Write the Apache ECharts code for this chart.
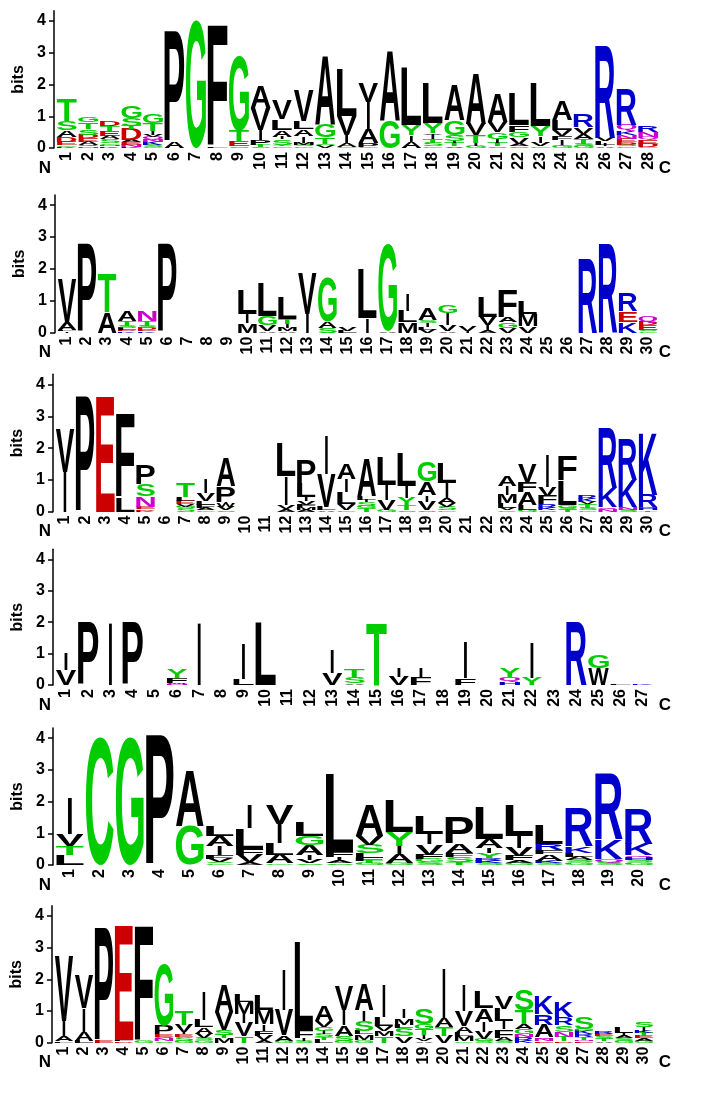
<!DOCTYPE html>
<html><head><meta charset="utf-8">
<script src="https://cdn.jsdelivr.net/npm/echarts@6/dist/echarts.min.js"></script>
<style>html,body{margin:0;padding:0;background:#fff}#c{width:705px;height:1097px}</style>
</head><body><div id="c"></div>
<script>
// ---------- DATA: each position = stack of [letter, bits] from bottom to top ----------
const logo1 = [
 [['K',.04],['G',.05],['E',.1],['D',.17],['A',.21],['S',.28],['T',.7]],
 [['N',.05],['Q',.05],['A',.1],['E',.1],['D',.12],['S',.18],['T',.22],['G',.18]],
 [['K',.05],['N',.05],['G',.05],['S',.12],['A',.1],['E',.15],['T',.17],['D',.17]],
 [['K',.04],['N',.06],['E',.08],['A',.06],['D',.35],['T',.1],['S',.25],['G',.35]],
 [['G',.04],['S',.06],['K',.1],['N',.08],['Q',.08],['V',.06],['I',.1],['T',.25],['G',.3]],
 [['A',.2],['P',3.48]],
 [['G',4.03]],
 [['L',.05],['F',3.82]],
 [['S',.05],['E',.14],['T',.35],['G',2.37]],
 [['S',.04],['T',.06],['P',.15],['I',.32],['V',.7],['A',.7]],
 [['G',.05],['T',.05],['S',.18],['I',.08],['A',.22],['L',.33],['V',.62]],
 [['G',.05],['S',.06],['M',.06],['I',.22],['A',.2],['L',.25],['V',.98]],
 [['V',.08],['S',.05],['T',.2],['G',.42],['A',2.17]],
 [['G',.04],['A',.12],['I',.25],['V',.6],['L',1.49]],
 [['G',.04],['P',.12],['A',.43],['I',.85],['V',.6]],
 [['G',.85],['A',2.22]],
 [['A',.2],['I',.22],['Y',.32],['L',1.82]],
 [['G',.05],['S',.1],['T',.12],['I',.15],['V',.05],['Y',.32],['L',1.24]],
 [['V',.05],['T',.1],['I',.06],['S',.2],['G',.47],['A',1.12]],
 [['G',.06],['I',.1],['T',.24],['V',.37],['A',1.6]],
 [['S',.05],['T',.1],['I',.12],['G',.22],['V',.32],['A',.9]],
 [['S',.05],['A',.08],['V',.2],['G',.16],['F',.22],['L',1.0]],
 [['G',.05],['V',.12],['I',.2],['Y',.32],['L',1.37]],
 [['G',.06],['T',.05],['I',.14],['F',.12],['V',.21],['L',.3],['A',.6]],
 [['G',.06],['S',.08],['T',.15],['A',.16],['V',.21],['R',.38]],
 [['A',.05],['I',.06],['L',.1],['V',.1],['R',2.92]],
 [['G',.05],['S',.06],['D',.08],['E',.1],['N',.12],['K',.13],['Q',.2],['R',1.14]],
 [['G',.04],['D',.1],['E',.12],['Q',.1],['N',.14],['R',.2]]
];
const logo2 = [
 [['I',.05],['L',.05],['A',.25],['V',1.38]],
 [['P',2.75]],
 [['A',.64],['T',1.22]],
 [['K',.04],['D',.04],['L',.06],['S',.08],['T',.15],['A',.32]],
 [['K',.04],['E',.05],['D',.06],['S',.07],['T',.15],['N',.32]],
 [['P',2.75]],
 [], [], [],
 [['M',.3],['I',.3],['L',.74]],
 [['A',.05],['V',.2],['G',.28],['L',1.02]],
 [['A',.05],['M',.1],['I',.12],['T',.17],['L',.68]],
 [['I',.6],['V',1.26]],
 [['S',.15],['A',.2],['G',1.4]],
 [['L',.06],['V',.12]],
 [['I',.45],['L',1.53]],
 [['A',.04],['G',2.71]],
 [['M',.32],['L',.37],['I',.54]],
 [['V',.1],['L',.08],['I',.13],['S',.08],['A',.35]],
 [['A',.05],['V',.2],['I',.36],['G',.26]],
 [['I',.06],['V',.14]],
 [['A',.06],['I',.18],['V',.26],['L',.63]],
 [['V',.15],['G',.17],['A',.16],['F',.86]],
 [['V',.2],['M',.38],['L',.39]],
 [], [],
 [['R',2.33]],
 [['R',2.75]],
 [['K',.34],['E',.33],['R',.56]],
 [['G',.04],['S',.04],['E',.15],['D',.1],['Q',.2]]
];
const logo3 = [
 [['I',1.26],['V',1.36]],
 [['P',3.63]],
 [['E',3.63]],
 [['L',.45],['F',2.61]],
 [['K',.03],['D',.05],['E',.08],['N',.32],['S',.38],['P',.6]],
 [],
 [['S',.1],['G',.06],['V',.08],['E',.1],['L',.12],['T',.45]],
 [['G',.05],['A',.06],['F',.1],['L',.12],['V',.25],['I',.45]],
 [['S',.05],['V',.1],['W',.12],['I',.04],['P',.5],['A',.9]],
 [], [],
 [['A',.08],['V',.13],['I',.9],['L',1.04]],
 [['A',.06],['M',.08],['F',.08],['V',.12],['I',.12],['L',.43],['P',.75]],
 [['A',.05],['L',.1],['V',1.05],['I',1.24]],
 [['G',.05],['V',.2],['L',.37],['I',.42],['A',.48]],
 [['T',.1],['G',.08],['S',.12],['I',.08],['L',.12],['A',1.2]],
 [['G',.06],['V',.32],['I',.47],['L',.9]],
 [['S',.05],['T',.15],['Y',.22],['I',.38],['L',1.03]],
 [['S',.05],['V',.27],['I',.22],['A',.42],['G',.62]],
 [['G',.05],['S',.1],['V',.12],['A',.15],['I',.47],['L',.63]],
 [], [],
 [['C',.05],['V',.06],['L',.15],['M',.27],['I',.27],['A',.32]],
 [['G',.06],['L',.15],['A',.4],['F',.32],['V',.57]],
 [['S',.05],['K',.06],['R',.12],['F',.27],['V',.27],['I',1.0]],
 [['T',.06],['S',.06],['G',.08],['L',.77],['F',.78]],
 [['G',.05],['S',.08],['T',.1],['V',.08],['K',.1],['R',.1]],
 [['N',.08],['Q',.06],['K',.6],['R',1.9]],
 [['S',.06],['N',.08],['K',.85],['R',1.3]],
 [['T',.05],['H',.06],['Q',.05],['R',.38],['K',1.96]]
];
const logo4 = [
 [['V',.48],['I',.53]],
 [['P',2]],
 [['I',2]],
 [['P',2]],
 [],
 [['N',.04],['W',.03],['F',.16],['Y',.28]],
 [['I',2]],
 [],
 [['L',.2],['I',1.13]],
 [['L',2]],
 [], [],
 [['V',.37],['I',.74]],
 [['A',.05],['S',.22],['T',.24]],
 [['T',2]],
 [['V',.27],['I',.27]],
 [['F',.26],['I',.27]],
 [],
 [['F',.21],['I',1.14]],
 [],
 [['H',.08],['Q',.16],['Y',.27]],
 [['Y',.22],['I',1.13]],
 [],
 [['R',2]],
 [['W',.53],['G',.43]],
 [['L',.05]],
 [['K',.05]]
];
const logo5 = [
 [['L',.3],['T',.3],['V',.37],['I',1.16]],
 [['C',4.05]],
 [['G',4.05]],
 [['P',4.1]],
 [['G',1.24],['A',1.74]],
 [['G',.05],['S',.05],['V',.1],['F',.12],['I',.27],['A',.32],['L',.3]],
 [['A',.08],['V',.22],['F',.21],['L',.66],['I',.75]],
 [['G',.05],['A',.27],['L',.37],['I',.6],['V',.6]],
 [['S',.05],['V',.1],['I',.16],['A',.32],['G',.3],['L',.45]],
 [['S',.05],['A',.08],['I',.12],['F',.17],['L',2.45]],
 [['G',.06],['T',.06],['F',.1],['L',.15],['S',.27],['V',.27],['A',.97]],
 [['G',.06],['A',.27],['I',.27],['Y',.43],['L',1.02]],
 [['S',.08],['G',.1],['F',.15],['V',.32],['I',.33],['L',.55]],
 [['T',.08],['S',.18],['F',.12],['A',.3],['P',.8]],
 [['S',.06],['K',.08],['R',.08],['Y',.15],['I',.18],['A',.27],['L',1.0]],
 [['G',.06],['A',.08],['F',.14],['V',.27],['I',.38],['L',.95]],
 [['S',.06],['K',.08],['A',.2],['F',.12],['R',.2],['L',.6]],
 [['G',.08],['S',.08],['A',.1],['L',.12],['K',.22],['R',1.22]],
 [['S',.08],['Q',.1],['K',.63],['R',2.05]],
 [['G',.08],['S',.08],['H',.08],['Q',.06],['K',.35],['R',1.07]]
];
const logo6 = [
 [['L',.04],['A',.16],['I',.48],['V',2.05]],
 [['L',.06],['A',.28],['I',.74],['V',1.04]],
 [['E',.08],['P',3.58]],
 [['D',.04],['L',.04],['E',3.58]],
 [['G',.06],['F',3.6]],
 [['S',.05],['N',.07],['Q',.06],['E',.08],['P',.27],['G',1.95]],
 [['G',.06],['S',.12],['E',.08],['I',.08],['V',.22],['T',.45]],
 [['G',.08],['S',.06],['V',.15],['A',.2],['L',.22],['I',.88]],
 [['M',.15],['T',.1],['S',.16],['V',.55],['A',.85]],
 [['T',.2],['V',.42],['I',.27],['M',.38],['L',.23]],
 [['A',.08],['V',.14],['F',.15],['I',.22],['M',.43],['L',.48]],
 [['G',.06],['A',.17],['V',.8],['I',1.27]],
 [['S',.06],['I',.08],['F',.26],['L',2.8]],
 [['L',.1],['T',.08],['S',.1],['I',.1],['G',.12],['V',.2],['A',.48]],
 [['G',.06],['S',.16],['A',.33],['I',.48],['V',.76]],
 [['G',.08],['M',.18],['L',.1],['S',.33],['I',.33],['A',.8]],
 [['T',.2],['M',.17],['V',.17],['L',.27],['I',1.0]],
 [['V',.2],['S',.25],['L',.12],['M',.22],['I',.27]],
 [['A',.05],['V',.08],['I',.1],['T',.2],['G',.16],['S',.5]],
 [['V',.22],['T',.27],['A',.27],['I',1.6]],
 [['G',.05],['M',.15],['L',.1],['A',.22],['V',.47],['I',.82]],
 [['S',.06],['G',.06],['V',.22],['I',.32],['A',.42],['L',.53]],
 [['S',.06],['A',.1],['F',.26],['I',.27],['L',.38],['V',.4]],
 [['K',.06],['R',.12],['N',.08],['G',.16],['A',.17],['T',.43],['S',.64]],
 [['E',.05],['N',.06],['Q',.06],['A',.4],['R',.32],['K',.55]],
 [['D',.04],['T',.15],['N',.16],['S',.2],['R',.25],['K',.5]],
 [['E',.05],['N',.05],['T',.08],['R',.08],['K',.1],['G',.08],['S',.35]],
 [['A',.05],['T',.08],['S',.08],['E',.06],['R',.08]],
 [['G',.06],['S',.08],['A',.08],['I',.1],['L',.18]],
 [['G',.06],['A',.08],['E',.06],['T',.1],['K',.08],['I',.1],['S',.15]]
];
const yTicks = [0, 1, 2, 3, 4];
const yMax = 4.32;
const endLabels = ['N', 'C'];

// ---------- STYLE / LAYOUT ----------
const logos = [logo1, logo2, logo3, logo4, logo5, logo6];
const zeroY = [148, 332.7, 511.7, 685, 865, 1042.7];
const bitPx = [31.75, 31.9, 31.8, 31.4, 31.7, 31.7];
const gLeft = [56, 57, 55, 55, 55, 54];
const gWidth = [603, 601, 603, 599, 599, 600];
const COLORS = {G:'#00CC00',S:'#00CC00',T:'#00CC00',Y:'#00CC00',C:'#00CC00',
  N:'#CC00CC',Q:'#CC00CC',K:'#0000CC',R:'#0000CC',H:'#0000CC',D:'#CC0000',E:'#CC0000'};
const FONT = 'bold 100px "Liberation Sans"';
const LBL = '"Liberation Sans", Arial, sans-serif';

const mc = document.createElement('canvas').getContext('2d');
mc.font = FONT; mc.textAlign = 'center'; mc.textBaseline = 'middle';
const MET = {};
'ACDEFGHIKLMNPQRSTVWY'.split('').forEach(L => {
  const m = mc.measureText(L);
  MET[L] = {l: m.actualBoundingBoxLeft, r: m.actualBoundingBoxRight,
            a: m.actualBoundingBoxAscent, d: m.actualBoundingBoxDescent};
});

const grids = [], xAxes = [], yAxes = [], series = [], graphics = [];
logos.forEach((logo, k) => {
  const h = yMax * bitPx[k];
  grids.push({left: gLeft[k], top: zeroY[k] - h, width: gWidth[k], height: h});
  const cats = logo.map((_, i) => String(i + 1));
  xAxes.push({type: 'category', gridIndex: k, data: cats, boundaryGap: true,
    axisLine: {show: false}, axisTick: {show: false},
    axisLabel: {interval: 0, rotate: 90, margin: 4, fontSize: 16, fontWeight: 'bold',
      color: '#000', fontFamily: LBL}});
  yAxes.push({type: 'value', gridIndex: k, min: 0, max: yMax, interval: 1, offset: 2,
    name: 'bits', nameLocation: 'middle', nameGap: 23,
    nameTextStyle: {fontSize: 16, fontWeight: 'bold', color: '#000', fontFamily: LBL},
    splitLine: {show: false},
    axisLine: {show: true, lineStyle: {color: '#000', width: 1.5}},
    axisTick: {show: true, length: 5, customValues: yTicks, lineStyle: {color: '#000', width: 1.5}},
    axisLabel: {customValues: yTicks, margin: 8, fontSize: 16, fontWeight: 'bold',
      color: '#000', fontFamily: LBL}});
  const items = [];
  logo.forEach((stack, i) => {
    let base = 0;
    stack.forEach(([L, v]) => { items.push([i, base, base + v, L]); base += v; });
  });
  series.push({type: 'custom', xAxisIndex: k, yAxisIndex: k, clip: false, silent: true,
    animation: false, encode: {x: 0, y: [1, 2]},
    data: items.map(d => [d[0], d[1], d[2]]),
    renderItem: (params, api) => {
      const L = items[params.dataIndex][3];
      const p0 = api.coord([api.value(0), api.value(1)]);
      const p1 = api.coord([api.value(0), api.value(2)]);
      const bw = api.size([1, 0])[0];
      const H = p0[1] - p1[1];
      if (H <= 0.2) return null;
      const m = MET[L];
      const W = L === 'I' ? bw * 0.14 : bw * 0.93;
      const sx = W / (m.l + m.r), sy = H / (m.a + m.d);
      return {type: 'text', x: p0[0] - W / 2 + sx * m.l, y: p1[1] + sy * m.a,
        scaleX: sx, scaleY: sy,
        style: {text: L, font: FONT, fill: COLORS[L] || '#000', align: 'center', verticalAlign: 'middle'}};
    }});
  graphics.push({type: 'text', x: 45, y: zeroY[k] + 20, style: {text: endLabels[0],
    font: 'bold 17px ' + LBL, fill: '#000', align: 'center', verticalAlign: 'middle'}});
  graphics.push({type: 'text', x: 665, y: zeroY[k] + 20, style: {text: endLabels[1],
    font: 'bold 17px ' + LBL, fill: '#000', align: 'center', verticalAlign: 'middle'}});
});

const chart = echarts.init(document.getElementById('c'), null, {renderer: 'canvas'});
chart.setOption({backgroundColor: '#fff', animation: false, grid: grids, xAxis: xAxes,
  yAxis: yAxes, series: series, graphic: graphics});
</script></body></html>
